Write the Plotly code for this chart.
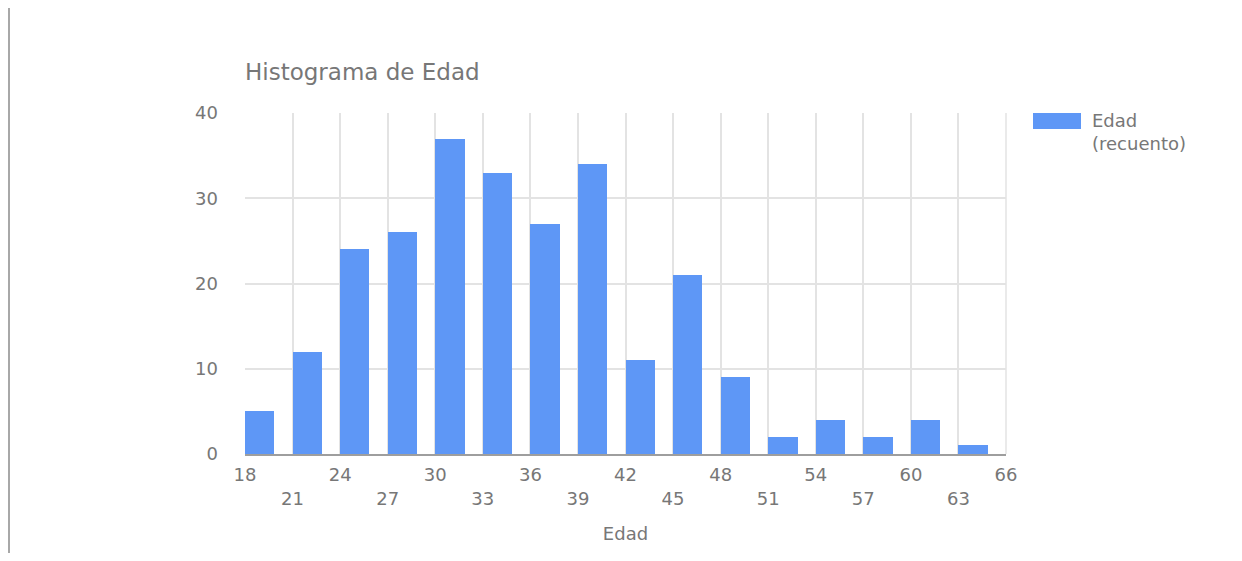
import plotly.graph_objects as go

# Data
bin_starts = [18, 21, 24, 27, 30, 33, 36, 39, 42, 45, 48, 51, 54, 57, 60, 63]
counts = [5, 12, 24, 26, 37, 33, 27, 34, 11, 21, 9, 2, 4, 2, 4, 1]
tick_vals = list(range(18, 67, 3))
tick_labels = [str(v) if i % 2 == 0 else "<br>" + str(v) for i, v in enumerate(tick_vals)]
y_ticks = [0, 10, 20, 30, 40]

BAR = "#5e97f6"
TXT = "#777777"
FONT = "DejaVu Sans"

# figure sits at (8, 8) in the page (default body margin)
W, H = 1226, 545
L, T = 237, 105
PW, PH = 761, 341

fig = go.Figure()
fig.add_trace(go.Bar(
    x=bin_starts, y=counts, width=1.85, offset=0,
    marker=dict(color=BAR, line=dict(width=0)),
    name="Edad (recuento)", showlegend=False,
))

def px(xf):
    return (xf - L) / PW

def py(yf):
    return (T + PH - yf) / PH

fig.update_layout(
    width=W, height=H,
    margin=dict(l=L, r=W - L - PW, t=T, b=H - T - PH, pad=0),
    paper_bgcolor="white", plot_bgcolor="white",
    font=dict(family=FONT, color=TXT, size=18),
    title=dict(text="Histograma de Edad", x=L / W, xanchor="left",
               y=1 - 64 / H, yanchor="middle", font=dict(size=23, color=TXT, family=FONT)),
    xaxis=dict(range=[18, 66], tickmode="array", tickvals=tick_vals, ticktext=tick_labels,
               showgrid=True, gridcolor="#e3e3e3", gridwidth=1.5, zeroline=False,
               showline=True, linecolor="#9e9e9e", linewidth=1.5,
               ticks="", ticklabelstandoff=4, tickfont=dict(size=18, color=TXT),
               title=dict(text="Edad", standoff=20, font=dict(size=18, color=TXT))),
    yaxis=dict(range=[0, 40], tickmode="array", tickvals=y_ticks,
               showgrid=True, gridcolor="#e3e3e3", gridwidth=1.5, zeroline=False,
               ticks="", ticklabelstandoff=26, tickfont=dict(size=18, color=TXT)),
    bargap=0,
    shapes=[
        dict(type="rect", xref="paper", yref="paper",
             x0=px(1025), x1=px(1073), y0=py(121), y1=py(105),
             fillcolor=BAR, line=dict(width=0)),
        dict(type="line", xref="paper", yref="paper",
             x0=px(1), x1=px(1), y0=py(H), y1=py(0),
             line=dict(color="#a8a8a8", width=2)),
        dict(type="line", xref="paper", yref="paper",
             x0=1, x1=1, y0=0, y1=1, line=dict(color="#e3e3e3", width=1.5)),
    ],
    annotations=[
        dict(text="Edad<br>(recuento)", xref="paper", yref="paper",
             x=px(1082), y=py(100), xanchor="left", yanchor="top",
             align="left", showarrow=False, font=dict(size=18, color=TXT, family=FONT)),
    ],
)

fig.write_html("out.html")
